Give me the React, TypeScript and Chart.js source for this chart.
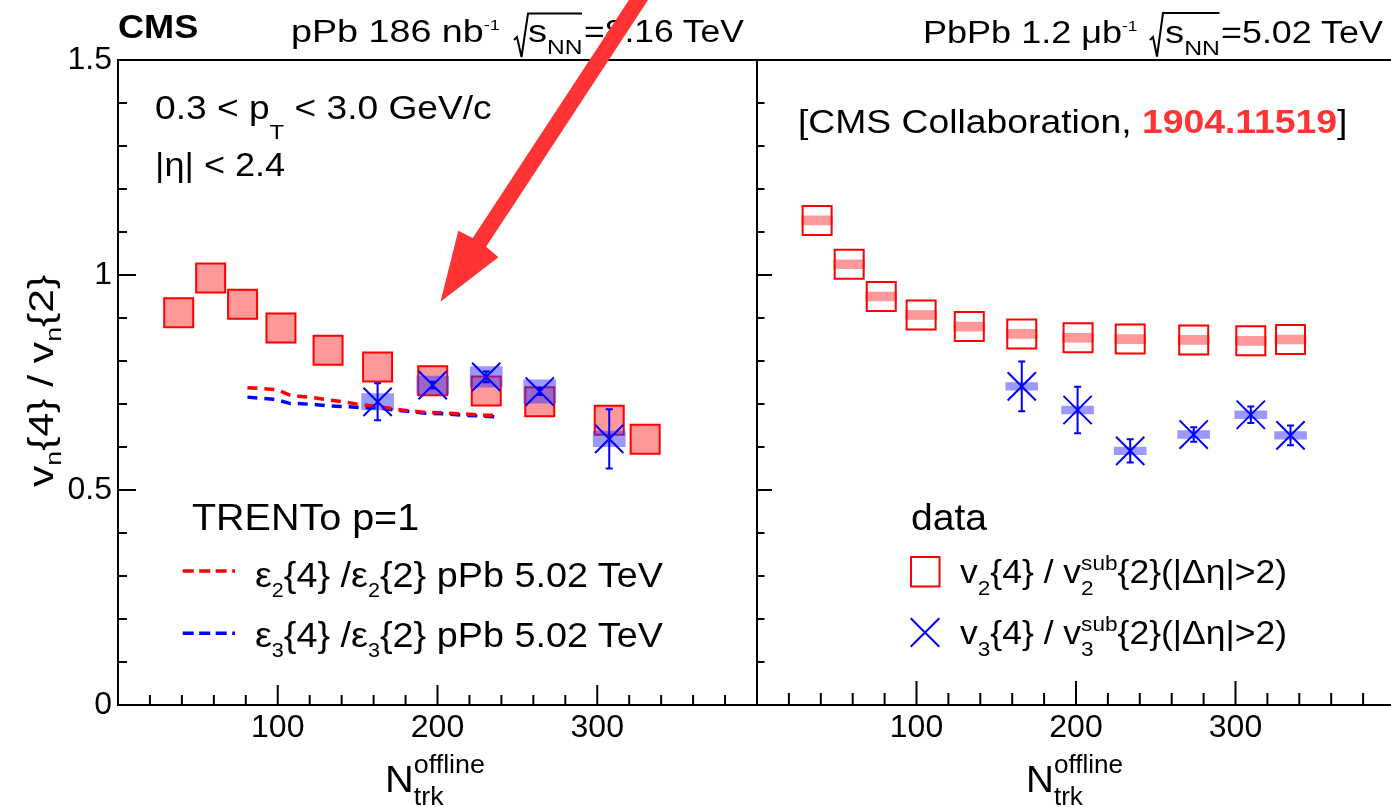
import React, { useEffect, useLayoutEffect, useRef, useState } from 'react';
import { Chart, registerables } from 'chart.js';

Chart.register(...registerables);

const FONT = "'Liberation Sans', Arial, Helvetica, sans-serif";

// ---------------- axes ----------------
const Y_MIN = 0;
const Y_MAX = 1.5;
const Y_MINOR = 0.1;
const Y_MAJOR_EVERY = 5; // every 5 minor ticks -> 0.5
const X_MINOR = 20;
const X_MAJOR = 100;
const X_LABELS = [100, 200, 300];
const LEFT_X_MAX = 400;
const RIGHT_X_MAX = 397.5;

// ---------------- left panel: pPb 8.16 TeV ----------------
const pPbV2X = [38, 58, 78, 102, 131.5, 162.5, 197, 230.5, 264, 307.5, 330];
const pPbV2Y = [0.912, 0.993, 0.932, 0.877, 0.825, 0.786, 0.754, 0.73, 0.705, 0.662, 0.618];

const pPbV3X = [162.5, 197, 230.5, 264, 307.5];
const pPbV3Y = [0.705, 0.744, 0.763, 0.729, 0.619];
const pPbV3Stat = [0.043, 0.008, 0.0125, 0.008, 0.069];
const pPbV3Sys = [0.019, 0.021, 0.024, 0.027, 0.018];

// TRENTo p=1 pPb 5.02 TeV
const trentoX = [81, 97, 101, 108, 113, 122, 131, 141, 151, 163, 178, 191, 206, 216, 227, 237];
const trentoE2 = [0.738, 0.734, 0.731, 0.72, 0.718, 0.715, 0.71, 0.705, 0.699, 0.694, 0.686, 0.681, 0.679, 0.677, 0.674, 0.674];
const trentoE3 = [0.716, 0.711, 0.708, 0.701, 0.701, 0.699, 0.696, 0.694, 0.692, 0.691, 0.684, 0.679, 0.677, 0.674, 0.672, 0.67];

// ---------------- right panel: PbPb 5.02 TeV ----------------
const PbPbV2X = [37.7, 57.8, 77.9, 102.9, 133.1, 166, 201.3, 234, 273.8, 309.6, 334.5];
const PbPbV2Y = [1.127, 1.025, 0.95, 0.907, 0.88, 0.863, 0.854, 0.851, 0.849, 0.847, 0.85];
const PbPbV2Sys = [0.0105, 0.0105, 0.0105, 0.0105, 0.0105, 0.0105, 0.0105, 0.0105, 0.0105, 0.0105, 0.0105];

const PbPbV3X = [166, 201, 234, 273.8, 309.6, 334.5];
const PbPbV3Y = [0.741, 0.686, 0.591, 0.629, 0.675, 0.627];
const PbPbV3Stat = [0.058, 0.054, 0.027, 0.017, 0.019, 0.023];
const PbPbV3Sys = [0.009, 0.009, 0.009, 0.009, 0.009, 0.009];

// ---------------- styles ----------------
const RED = '#ff0000';
const BLUE = '#0000ff';
const PINK = 'rgba(255, 51, 51, 0.5)';
const LIGHTBLUE = 'rgba(51, 51, 255, 0.5)';
const NOTE_RED = '#ff3333';
const CAP = 3.5;

const pts = (xs: number[], ys: number[]) => xs.map((x, i) => ({ x, y: ys[i] }));
const bands = (xs: number[], ys: number[], es: number[]) =>
  xs.map((x, i) => ({ x, y: [ys[i] - es[i], ys[i] + es[i]] }));

type ErrSet = { xs: number[]; ys: number[]; es: number[]; color: string };
type TickLen = { yMajor: number; yMinor: number; xMajor: number; xMinor: number };

function decorPlugin(tl: TickLen, drawLeft: boolean, drawRight: boolean, errs: ErrSet[]) {
  return {
    id: 'decor',
    afterDatasetsDraw(chart: any) {
      const { ctx, scales } = chart;
      const xs = scales.x;
      const ys = scales.y;
      ctx.save();
      ctx.lineWidth = 2;
      for (const s of errs) {
        ctx.strokeStyle = s.color;
        ctx.beginPath();
        s.xs.forEach((xv, i) => {
          const px = xs.getPixelForValue(xv);
          const lo = ys.getPixelForValue(s.ys[i] - s.es[i]);
          const hi = ys.getPixelForValue(s.ys[i] + s.es[i]);
          ctx.moveTo(px, lo);
          ctx.lineTo(px, hi);
          ctx.moveTo(px - CAP, lo);
          ctx.lineTo(px + CAP, lo);
          ctx.moveTo(px - CAP, hi);
          ctx.lineTo(px + CAP, hi);
        });
        ctx.stroke();
      }
      ctx.restore();
    },
    afterDraw(chart: any) {
      const { ctx, chartArea: a, scales } = chart;
      const xs = scales.x;
      const ys = scales.y;
      ctx.save();
      ctx.strokeStyle = '#000';
      ctx.lineWidth = 2;
      ctx.beginPath();
      ctx.moveTo(a.left - 1, a.top);
      ctx.lineTo(a.right + 1, a.top);
      ctx.moveTo(a.left - 1, a.bottom);
      ctx.lineTo(a.right + 1, a.bottom);
      if (drawLeft) {
        ctx.moveTo(a.left, a.top - 1);
        ctx.lineTo(a.left, a.bottom + 1);
      }
      if (drawRight) {
        ctx.moveTo(a.right, a.top - 1);
        ctx.lineTo(a.right, a.bottom + 1);
      }
      const nY = Math.round((Y_MAX - Y_MIN) / Y_MINOR);
      for (let k = 0; k <= nY; k++) {
        const py = ys.getPixelForValue(Y_MIN + k * Y_MINOR);
        const len = k % Y_MAJOR_EVERY === 0 ? tl.yMajor : tl.yMinor;
        ctx.moveTo(a.left, py);
        ctx.lineTo(a.left + len, py);
      }
      const nX = Math.floor((xs.max - xs.min) / X_MINOR + 1e-6);
      for (let k = 1; k <= nX; k++) {
        const v = xs.min + k * X_MINOR;
        const px = xs.getPixelForValue(v);
        const len = Math.abs(v % X_MAJOR) < 1e-6 ? tl.xMajor : tl.xMinor;
        ctx.moveTo(px, a.bottom);
        ctx.lineTo(px, a.bottom - len);
      }
      ctx.stroke();
      ctx.restore();
    },
  };
}

function xAxis(max: number) {
  return {
    type: 'linear',
    min: 0,
    max,
    offset: false,
    grid: { display: false, drawTicks: false, offset: false },
    border: { display: false },
    ticks: {
      stepSize: X_MINOR,
      autoSkip: false,
      maxRotation: 0,
      minRotation: 0,
      includeBounds: false,
      padding: 4,
      color: '#000',
      font: { family: FONT, size: 32 },
      callback: (v: number) => {
        const r = Math.round(v);
        return Math.abs(v - r) < 1e-6 && X_LABELS.includes(r) ? String(r) : '';
      },
    },
    afterFit: (s: any) => {
      s.height = 807 - 705;
      s.paddingLeft = 0;
      s.paddingRight = 0;
    },
  };
}

function baseOptions() {
  return {
    responsive: false,
    maintainAspectRatio: false,
    animation: false,
    devicePixelRatio: 1,
    events: [],
    plugins: { legend: { display: false }, tooltip: { enabled: false } },
  };
}

function leftConfig(): any {
  return {
    type: 'scatter',
    data: {
      datasets: [
        {
          type: 'scatter',
          label: 'v2{4}/v2{2} pPb',
          data: pts(pPbV2X, pPbV2Y),
          pointStyle: 'rect',
          pointRadius: 20.5,
          backgroundColor: PINK,
          borderColor: RED,
          borderWidth: 2,
          order: 10,
        },
        {
          type: 'bar',
          label: 'v3 sys pPb',
          data: bands(pPbV3X, pPbV3Y, pPbV3Sys),
          backgroundColor: LIGHTBLUE,
          borderWidth: 0,
          barThickness: 32,
          grouped: false,
          order: 9,
        },
        {
          type: 'line',
          label: 'eps3{4}/eps3{2}',
          data: pts(trentoX, trentoE3),
          borderColor: BLUE,
          borderWidth: 3.5,
          borderDash: [10, 7],
          pointRadius: 0,
          fill: false,
          tension: 0,
          order: 8,
        },
        {
          type: 'line',
          label: 'eps2{4}/eps2{2}',
          data: pts(trentoX, trentoE2),
          borderColor: RED,
          borderWidth: 3.5,
          borderDash: [10, 7],
          pointRadius: 0,
          fill: false,
          tension: 0,
          order: 7,
        },
        {
          type: 'scatter',
          label: 'v3{4}/v3{2} pPb',
          data: pts(pPbV3X, pPbV3Y),
          pointStyle: 'crossRot',
          pointRadius: 20,
          borderColor: BLUE,
          borderWidth: 2,
          order: 1,
        },
      ],
    },
    options: {
      ...baseOptions(),
      layout: { autoPadding: false, padding: { top: 60, right: 3, bottom: 0, left: 0 } },
      scales: {
        x: xAxis(LEFT_X_MAX),
        y: {
          type: 'linear',
          min: Y_MIN,
          max: Y_MAX,
          stacked: false,
          grid: { display: false, drawTicks: false },
          border: { display: false },
          ticks: {
            stepSize: Y_MINOR,
            autoSkip: false,
            padding: 6,
            color: '#000',
            font: { family: FONT, size: 32 },
            callback: (v: number) => {
              const k = Math.round(v / Y_MINOR);
              return k % Y_MAJOR_EVERY === 0 ? String(Math.round(v * 10) / 10) : '';
            },
          },
          afterFit: (s: any) => {
            s.width = 118;
            s.paddingTop = 0;
            s.paddingBottom = 0;
          },
        },
      },
    },
    plugins: [
      decorPlugin({ yMajor: 18, yMinor: 9, xMajor: 20, xMinor: 10 }, true, true, [
        { xs: pPbV3X, ys: pPbV3Y, es: pPbV3Stat, color: BLUE },
      ]),
    ],
  };
}

function rightConfig(): any {
  return {
    type: 'scatter',
    data: {
      datasets: [
        {
          type: 'bar',
          label: 'v2 sys PbPb',
          data: bands(PbPbV2X, PbPbV2Y, PbPbV2Sys),
          backgroundColor: PINK,
          borderWidth: 0,
          barThickness: 31,
          grouped: false,
          order: 10,
        },
        {
          type: 'bar',
          label: 'v3 sys PbPb',
          data: bands(PbPbV3X, PbPbV3Y, PbPbV3Sys),
          backgroundColor: LIGHTBLUE,
          borderWidth: 0,
          barThickness: 32,
          grouped: false,
          order: 9,
        },
        {
          type: 'scatter',
          label: 'v2{4}/v2sub{2}',
          data: pts(PbPbV2X, PbPbV2Y),
          pointStyle: 'rect',
          pointRadius: 20.5,
          backgroundColor: 'rgba(0,0,0,0)',
          borderColor: RED,
          borderWidth: 2,
          order: 5,
        },
        {
          type: 'scatter',
          label: 'v3{4}/v3sub{2}',
          data: pts(PbPbV3X, PbPbV3Y),
          pointStyle: 'crossRot',
          pointRadius: 20,
          borderColor: BLUE,
          borderWidth: 2,
          order: 1,
        },
      ],
    },
    options: {
      ...baseOptions(),
      layout: { autoPadding: false, padding: { top: 60, right: 0, bottom: 0, left: 0 } },
      scales: {
        x: xAxis(RIGHT_X_MAX),
        y: {
          type: 'linear',
          display: false,
          min: Y_MIN,
          max: Y_MAX,
          stacked: false,
        },
      },
    },
    plugins: [
      decorPlugin({ yMajor: 15, yMinor: 7.5, xMajor: 24, xMinor: 12 }, true, false, [
        { xs: PbPbV3X, ys: PbPbV3Y, es: PbPbV3Stat, color: BLUE },
      ]),
    ],
  };
}

// ---------------- text helpers ----------------
function Txt(props: any) {
  const { x, y, fs, w, bold, color, rot, children } = props;
  const ref = useRef<HTMLDivElement>(null);
  const [sx, setSx] = useState(1);
  useLayoutEffect(() => {
    const measure = () => {
      const el = ref.current;
      if (!el || !w) return;
      const nat = el.offsetWidth;
      if (nat > 0) setSx(w / nat);
    };
    measure();
    const f: any = (document as any).fonts;
    if (f && f.ready) f.ready.then(measure);
  }, [w]);
  const base = 0.8465 * fs;
  const style: any = {
    position: 'absolute',
    fontSize: fs,
    lineHeight: 1,
    whiteSpace: 'nowrap',
    fontFamily: FONT,
    fontWeight: bold ? 'bold' : 'normal',
    color: color || '#000',
    transformOrigin: '0 0',
  };
  if (rot) {
    style.left = x - base;
    style.top = y;
    style.transform = `rotate(-90deg) scaleX(${sx})`;
  } else {
    style.left = x;
    style.top = y - base;
    style.transform = `scaleX(${sx})`;
  }
  return (
    <div ref={ref} style={style}>
      {children}
    </div>
  );
}

function Sp({ fs, dy, children }: any) {
  return <span style={{ fontSize: fs, position: 'relative', top: dy, lineHeight: 1 }}>{children}</span>;
}

function SubSup({ fs, sup, sub, up, down }: any) {
  return (
    <span style={{ position: 'relative', display: 'inline-block', fontSize: fs, lineHeight: 1 }}>
      <span style={{ position: 'relative', top: -up }}>{sup}</span>
      <span style={{ position: 'absolute', left: 0, top: down }}>{sub}</span>
    </span>
  );
}

// annotation arrow geometry
const ARROW_TIP = [440.5, 301.7];
const ARROW_DIR = [0.5486, -0.836];
function arrowPoints() {
  const [tx, ty] = ARROW_TIP;
  const [dx, dy] = ARROW_DIR;
  const nx = -dy;
  const ny = dx;
  const p = (along: number, side: number) => `${tx + along * dx + side * nx},${ty + along * dy + side * ny}`;
  return [p(0, 0), p(69, 24), p(71, 8), p(420, 8), p(420, -8), p(71, -8), p(69, -24)].join(' ');
}

export default function App() {
  const leftRef = useRef<HTMLCanvasElement>(null);
  const rightRef = useRef<HTMLCanvasElement>(null);

  useEffect(() => {
    const c1 = new Chart(leftRef.current as HTMLCanvasElement, leftConfig());
    const c2 = new Chart(rightRef.current as HTMLCanvasElement, rightConfig());
    return () => {
      c1.destroy();
      c2.destroy();
    };
  }, []);

  return (
    <div
      style={{
        position: 'absolute',
        left: 0,
        top: 0,
        width: 1391,
        height: 807,
        background: '#fff',
        overflow: 'hidden',
        fontFamily: FONT,
      }}
    >
      <canvas ref={leftRef} width={760} height={807} style={{ position: 'absolute', left: 0, top: 0 }} />
      <canvas ref={rightRef} width={634} height={807} style={{ position: 'absolute', left: 757, top: 0 }} />

      {/* headers */}
      <Txt x={118} y={38.3} fs={33} w={80} bold>
        CMS
      </Txt>
      <Txt x={291} y={42.5} fs={31} w={209}>
        pPb 186 nb<Sp fs={15} dy={-12}>-1</Sp>
      </Txt>
      <Txt x={528} y={42.5} fs={31} w={54}>
        s<Sp fs={20} dy={12}>NN</Sp>
      </Txt>
      <Txt x={584} y={42.5} fs={31} w={160}>
        =8.16 TeV
      </Txt>
      <Txt x={923} y={42.8} fs={31} w={215}>
        PbPb 1.2 μb<Sp fs={15} dy={-12}>-1</Sp>
      </Txt>
      <Txt x={1164.5} y={42.8} fs={31} w={54.5}>
        s<Sp fs={20} dy={12}>NN</Sp>
      </Txt>
      <Txt x={1221} y={42.8} fs={31} w={162}>
        =5.02 TeV
      </Txt>

      {/* left panel notes */}
      <Txt x={155} y={120} fs={32.5} w={337}>
        0.3 &lt; p<Sp fs={21} dy={20}>T</Sp> &lt; 3.0 GeV/c
      </Txt>
      <Txt x={155} y={176.7} fs={32.5} w={130}>
        |η| &lt; 2.4
      </Txt>

      {/* right panel note */}
      <Txt x={798} y={133.3} fs={32.5} w={549.5}>
        [CMS Collaboration, <span style={{ color: NOTE_RED, fontWeight: 'bold' }}>1904.11519</span>]
      </Txt>

      {/* left legend */}
      <Txt x={191.7} y={530.7} fs={36} w={227}>
        TRENTo p=1
      </Txt>
      <Txt x={255} y={586.7} fs={35} w={408}>
        ε<Sp fs={20} dy={10}>2</Sp>
        {'{4} /ε'}
        <Sp fs={20} dy={10}>2</Sp>
        {'{2} pPb 5.02 TeV'}
      </Txt>
      <Txt x={255} y={646.7} fs={35} w={408}>
        ε<Sp fs={20} dy={10}>3</Sp>
        {'{4} /ε'}
        <Sp fs={20} dy={10}>3</Sp>
        {'{2} pPb 5.02 TeV'}
      </Txt>

      {/* right legend */}
      <Txt x={910.7} y={530} fs={36} w={76}>
        data
      </Txt>
      <Txt x={960} y={583.3} fs={33} w={327}>
        v<Sp fs={21} dy={11.7}>2</Sp>
        {'{4} / v'}
        <SubSup fs={21} sup="sub" sub="2" up={13.3} down={11.7} />
        {'{2}(|Δη|>2)'}
      </Txt>
      <Txt x={960} y={644} fs={33} w={327}>
        v<Sp fs={21} dy={11.7}>3</Sp>
        {'{4} / v'}
        <SubSup fs={21} sup="sub" sub="3" up={13.3} down={11.7} />
        {'{2}(|Δη|>2)'}
      </Txt>

      {/* y axis title */}
      <Txt x={53} y={486.7} fs={35} w={211.7} rot>
        v<Sp fs={22} dy={8}>n</Sp>
        {'{4} / v'}
        <Sp fs={22} dy={8}>n</Sp>
        {'{2}'}
      </Txt>

      {/* x axis titles */}
      <Txt x={385} y={792} fs={37} w={100}>
        N
        <SubSup fs={25} sup="offline" sub="trk" up={19} down={13} />
      </Txt>
      <Txt x={1026} y={792} fs={37} w={97}>
        N
        <SubSup fs={25} sup="offline" sub="trk" up={19} down={13} />
      </Txt>

      <svg width={1391} height={807} style={{ position: 'absolute', left: 0, top: 0, pointerEvents: 'none' }}>
        {/* square roots */}
        <path d="M514,40 L517,37 L521.5,57 L528,13.5 L582,13.5" fill="none" stroke="#000" strokeWidth={2} />
        <path d="M1150,40 L1153,37 L1157,56.5 L1163,13 L1219.5,13" fill="none" stroke="#000" strokeWidth={2} />
        {/* legend glyphs */}
        <line x1={182.7} y1={571} x2={235} y2={571} stroke={RED} strokeWidth={3.5} strokeDasharray="11 5.5" />
        <line x1={182.7} y1={633.3} x2={235} y2={633.3} stroke={BLUE} strokeWidth={3.5} strokeDasharray="11 5.5" />
        <rect x={911} y={557} width={28.5} height={29.5} fill="none" stroke={RED} strokeWidth={2} />
        <line x1={910.7} y1={618.3} x2={939.3} y2={646.7} stroke={BLUE} strokeWidth={2} />
        <line x1={939.3} y1={618.3} x2={910.7} y2={646.7} stroke={BLUE} strokeWidth={2} />
        {/* annotation arrow */}
        <polygon points={arrowPoints()} fill={NOTE_RED} />
      </svg>
    </div>
  );
}
